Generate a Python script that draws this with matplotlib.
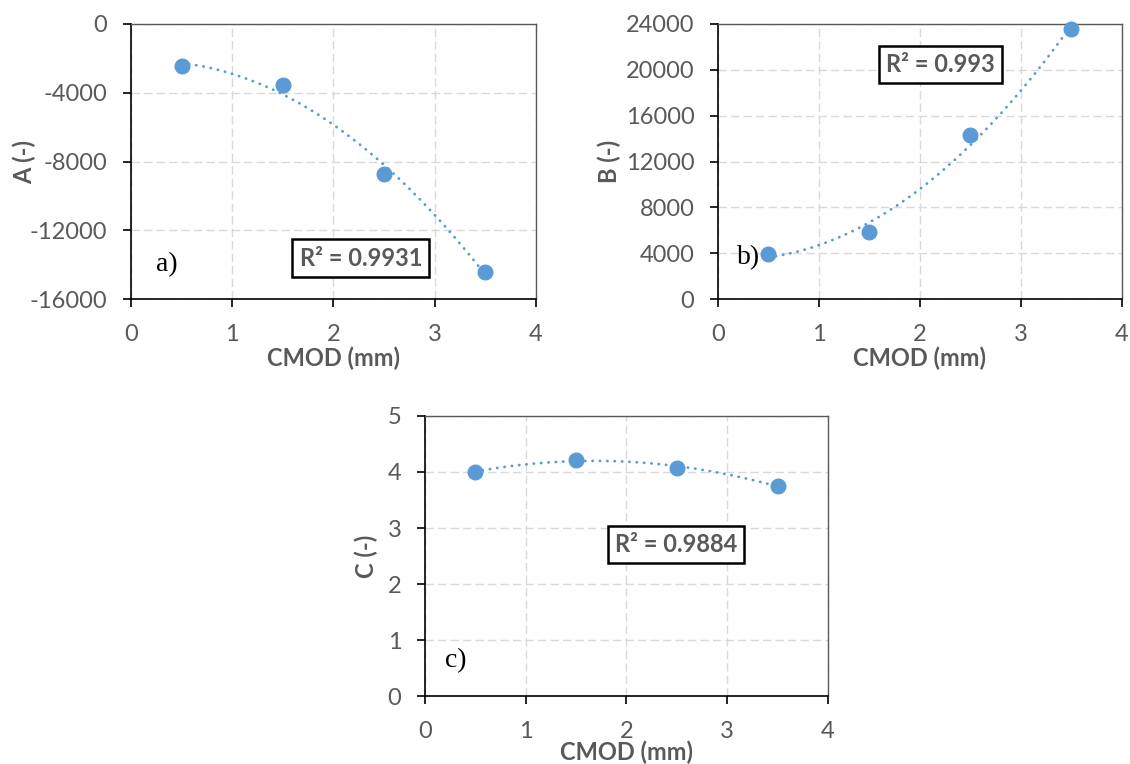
import numpy as np
import matplotlib
matplotlib.use("Agg")
import matplotlib.pyplot as plt

plt.rcParams['font.family'] = ['Lato', 'DejaVu Sans']
plt.rcParams['axes.unicode_minus'] = False

# donnees
cmod   = [0.5, 1.5, 2.5, 3.5]
A_vals = [-2450, -3570, -8730, -14410]
B_vals = [3930, 5830, 14300, 23600]
C_vals = [4.00, 4.22, 4.08, 3.75]

r2_txt   = ["R² = 0.9931", "R² = 0.993", "R² = 0.9884"]
lettres  = ["a)", "b)", "c)"]
ylabels  = ["A (-)", "B (-)", "C (-)"]
yticks_a = [0, -4000, -8000, -12000, -16000]
yticks_b = [0, 4000, 8000, 12000, 16000, 20000, 24000]
yticks_c = [0, 1, 2, 3, 4, 5]
xticks   = [0, 1, 2, 3, 4]

BLEU = '#5B9BD5'
GRIS = '#595959'

fig = plt.figure(figsize=(11.3, 7.64), dpi=100)
ax_a = fig.add_axes([0.1159, 0.6086, 0.3584, 0.360])
ax_b = fig.add_axes([0.6354, 0.6086, 0.3575, 0.360])
ax_c = fig.add_axes([0.3761, 0.0890, 0.3566, 0.3665])

#          axe, valeurs, yticks, ylim, pos R2, pos lettre, x ylabel, y xlabel
panneaux = [
    (ax_a, A_vals, yticks_a, (-16000, 0), (2.27, -13615), (0.35, -14000), -0.235, -0.171),
    (ax_b, B_vals, yticks_b, (0, 24000), (2.20, 20500), (0.30, 3580), -0.240, -0.171),
    (ax_c, C_vals, yticks_c, (0, 5), (2.49, 2.70), (0.31, 0.64), -0.117, -0.158),
]

for i, (ax, vals, yt, ylim, pos_r2, pos_let, ylab_x, xlab_y) in enumerate(panneaux):
    # courbe de tendance polynomiale (ordre 2)
    coef = np.polyfit(cmod, vals, 2)
    xx = np.linspace(cmod[0], cmod[-1], 200)
    ax.plot(xx, np.polyval(coef, xx), color=BLEU, lw=2.0,
            linestyle=(0, (0.1, 2.55)), dash_capstyle='round', zorder=3)
    ax.plot(cmod, vals, 'o', color=BLEU, markersize=10.5, zorder=4, clip_on=False)

    ax.set_xlim(0, 4)
    ax.set_ylim(*ylim)
    ax.set_xticks(xticks)
    ax.set_yticks(yt)
    ax.grid(True, color='#D9D9D9', lw=1.0, linestyle=(0, (6, 3)))
    ax.set_axisbelow(True)

    for s in ['left', 'bottom']:
        ax.spines[s].set_color('black')
        ax.spines[s].set_linewidth(1.2)
    for s in ['top', 'right']:
        ax.spines[s].set_color('#595959')
        ax.spines[s].set_linewidth(1.0)

    ax.tick_params(axis='both', direction='out', length=6, width=1.2,
                   colors='black', labelcolor=GRIS, labelsize=17)
    ax.tick_params(axis='y', pad=11)
    ax.tick_params(axis='x', pad=12)

    ax.set_xlabel("CMOD (mm)", fontsize=17, fontweight='bold', color=GRIS)
    ax.xaxis.set_label_coords(0.5, xlab_y)
    ax.set_ylabel(ylabels[i], fontsize=17, fontweight='bold', color=GRIS)
    ax.yaxis.set_label_coords(ylab_x, 0.5)

    ax.text(pos_r2[0], pos_r2[1], r2_txt[i], fontsize=17, fontweight='bold',
            color=GRIS, ha='center', va='center', zorder=5,
            bbox=dict(boxstyle='square,pad=0.3', fc='white', ec='black', lw=1.8))
    ax.text(pos_let[0], pos_let[1], lettres[i], fontsize=20,
            family='Liberation Serif', color='black', ha='center', va='center')

fig.savefig("out.png", dpi=100)
